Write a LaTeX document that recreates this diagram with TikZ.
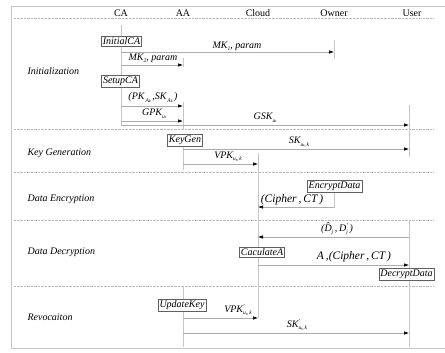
\documentclass[tikz,border=0pt]{standalone}
\usepackage{fontspec}
\setmainfont{Liberation Serif}
\usepackage{tikz}
\usetikzlibrary{arrows.meta}

% small lowered index, prime and u_t index
\newcommand{\sbs}[1]{\raisebox{-0.5ex}{\fontsize{5.5}{6}\selectfont\itshape #1}}
\newcommand{\prm}{\rlap{\raisebox{0.9ex}{\fontsize{6}{6}\selectfont\upshape '}}}
\newcommand{\uts}{u\raisebox{-0.3ex}{\fontsize{4}{4}\selectfont t}}

\begin{document}
\begin{tikzpicture}[x=1pt, y=-1pt, every node/.append style={font=\normalsize}]
    \tikzset{
        life/.style={draw=gray!45, line width=0.8pt},
        msg/.style={draw=gray!65, line width=0.6pt, -{Latex[black,length=5pt,width=3.5pt]}},
        sep/.style={draw=gray!55, densely dotted},
        proc/.style={draw=gray!75!black, fill=white, font=\itshape, inner sep=1.5pt},
        phase/.style={anchor=west, font=\itshape},
        lbl/.style={font=\itshape, inner sep=1pt},
        biglbl/.style={font=\fontsize{11.5}{12}\selectfont\itshape, inner sep=1pt},
    }
    \useasboundingbox (0,0) rectangle (445,353);
    \draw[gray!45, line width=0.8pt] (446,6) -- (11,6) -- (11,348) -- (446,348);

    % parties
    \node (ca) at (121,13) {CA};
    \node (aa) at (183,13) {AA};
    \node (cloud) at (258,13) {Cloud};
    \node (owner) at (334,13) {Owner};
    \node (user) at (412,13) {User};

    \foreach \y in {18,129,172,220,286}
        \draw[sep] (14,\y) -- (434,\y);

    % phases
    \node[phase] (init) at (24,71) {Initialization};
    \node[phase] (keygen) at (24,153) {Key Generation};
    \node[phase] (enc) at (24,199) {Data Encryption};
    \node[phase] (dec) at (24,252) {Data Decryption};
    \node[phase] (revoc) at (24,317) {Revocaiton};

    % lifeline ends
    \foreach \n/\x/\y in {ca1/121/25, ca2/121/125,
                          aa1/183/58, aa2/183/67, aa3/183/102, aa4/183/130,
                          aa5/183/137, aa6/183/170, aa7/183/286, aa8/183/347,
                          cl1/258/153, cl2/258/318,
                          ow1/334/40, ow2/334/59, ow3/334/182, ow4/334/208,
                          us1/409/105, us2/409/157, us3/409/220, us4/409/347}
        \coordinate (\n) at (\x,\y);

    \draw[life] (ca1) -- (ca2);
    \draw[life] (aa1) -- (aa2);
    \draw[life] (aa3) -- (aa4);
    \draw[life] (aa5) -- (aa6);
    \draw[life] (aa7) -- (aa8);
    \draw[life] (cl1) -- (cl2);
    \draw[life] (ow1) -- (ow2);
    \draw[life] (ow3) -- (ow4);
    \draw[life] (us1) -- (us2);
    \draw[life] (us3) -- (us4);

    % operations
    \node[proc] (initialca) at (121.5,41.5) {InitialCA};
    \node[proc] (setupca) at (120.5,81.5) {SetupCA};
    \node[proc] (kg) at (185,140.5) {KeyGen};
    \node[proc] (encdata) at (334.5,186.5) {EncryptData};
    \node[proc] (calca) at (262,252) {CaculateA};
    \node[proc] (decdata) at (406.5,274) {DecryptData};
    \node[proc] (updkey) at (182,305) {UpdateKey};

    % message ends
    \foreach \n/\x/\y in {mk1a/121/52, mk1b/334/52,
                          mk2a/121/65, mk2b/183/65,
                          pka/121/106, pkb/183/106,
                          gpka/121/121, gpkb/183/121,
                          gska/121/125, gskb/409/125,
                          ska/183/149, skb/409/149,
                          vpka/183/164, vpkb/258/164,
                          cta/334/207, ctb/258/207,
                          dja/409/237, djb/258/237,
                          aca/258/265, acb/409/265,
                          vpkra/183/318, vpkrb/258/318,
                          skra/183/333, skrb/409/333}
        \coordinate (\n) at (\x,\y);

    \draw[msg] (mk1a) -- (mk1b);
    \draw[msg] (mk2a) -- (mk2b);
    \draw[msg] (pka) -- (pkb);
    \draw[msg] (gpka) -- (gpkb);
    \draw[msg] (gska) -- (gskb);
    \draw[msg] (ska) -- (skb);
    \draw[msg] (vpka) -- (vpkb);
    \draw[msg] (cta) -- (ctb);
    \draw[msg] (dja) -- (djb);
    \draw[msg] (aca) -- (acb);
    \draw[msg] (vpkra) -- (vpkrb);
    \draw[msg] (skra) -- (skrb);

    % message labels
    \node[lbl] (lmk1) at (237,46) {MK\sbs{1}, param};
    \node[lbl] (lmk2) at (153,58) {MK\sbs{2}, param};
    \node[lbl] (lpk) at (153,98) {(PK\sbs{\,A\raisebox{-0.3ex}{\fontsize{4}{4}\selectfont k}}\,,SK\sbs{\,A\raisebox{-0.3ex}{\fontsize{4}{4}\selectfont k}}\,)};
    \node[lbl] (lgpk) at (154,114) {GPK\sbs{\uts}};
    \node[lbl] (lgsk) at (265,118) {GSK\sbs{\uts}};
    \node[lbl] (lsk) at (299,142) {SK\sbs{\uts,\,k}};
    \node[lbl] (lvpk) at (228,157) {VPK\sbs{\uts,\,k}};
    \node[biglbl] (lct) at (292,200) {(Cipher\,,\,CT\,)};
    \node[lbl] (ldj) at (337,229) {(\^{D}\sbs{j}\,,\,D\prm\sbs{j}\,)};
    \node[biglbl] (lac) at (354,257) {A\,,(Cipher\,,\,CT\,)};
    \node[lbl] (lvpkr) at (238,310) {VPK\prm\sbs{\uts,\,k}};
    \node[lbl] (lskr) at (297,325) {SK\prm\sbs{\uts,\,k}};
\end{tikzpicture}
\end{document}
